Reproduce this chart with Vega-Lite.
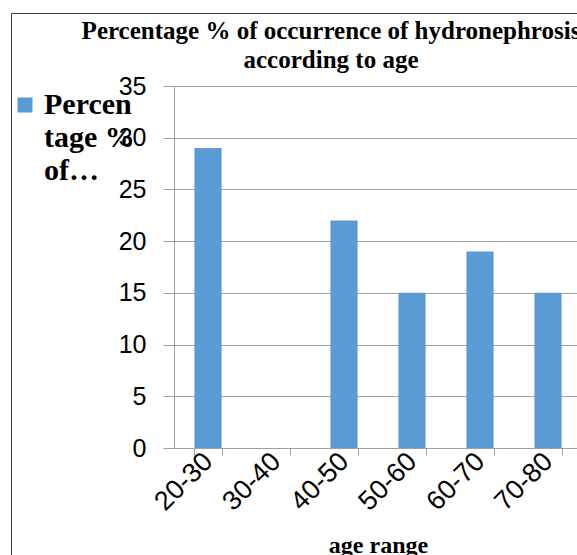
{
  "$schema": "https://vega.github.io/schema/vega-lite/v6.json",
  "autosize": {"type": "none"},
  "padding": {"left": 174, "top": 86, "right": 0, "bottom": 107},
  "width": 408,
  "height": 362,
  "background": "white",
  "title": {
    "text": ["Percentage % of occurrence of hydronephrosis", "according to age"],
    "font": "Liberation Serif",
    "fontSize": 25,
    "fontWeight": "bold",
    "color": "black",
    "lineHeight": 29,
    "anchor": "middle",
    "frame": "group",
    "dx": -47,
    "offset": -60
  },
  "data": {
    "values": [
      {"age": "20-30", "pct": 29, "series": "Percentage % of occurrence of hydronephrosis"},
      {"age": "30-40", "pct": 0, "series": "Percentage % of occurrence of hydronephrosis"},
      {"age": "40-50", "pct": 22, "series": "Percentage % of occurrence of hydronephrosis"},
      {"age": "50-60", "pct": 15, "series": "Percentage % of occurrence of hydronephrosis"},
      {"age": "60-70", "pct": 19, "series": "Percentage % of occurrence of hydronephrosis"},
      {"age": "70-80", "pct": 15, "series": "Percentage % of occurrence of hydronephrosis"}
    ]
  },
  "mark": {"type": "bar"},
  "encoding": {
    "x": {
      "field": "age",
      "type": "nominal",
      "sort": null,
      "scale": {"paddingInner": 0.6, "paddingOuter": 0.3},
      "axis": {
        "title": "age range",
        "titleFont": "Liberation Serif",
        "titleFontSize": 24,
        "titleFontWeight": "bold",
        "titleColor": "black",
        "titlePadding": 18,
        "labelAngle": -45,
        "labelAlign": "right",
        "labelBaseline": "middle",
        "labelFont": "Liberation Sans",
        "labelFontSize": 27,
        "labelColor": "black",
        "labelPadding": 2,
        "tickBand": "extent",
        "tickSize": 7,
        "tickColor": "#a0a0a0",
        "domainColor": "#a0a0a0",
        "grid": false
      }
    },
    "y": {
      "field": "pct",
      "type": "quantitative",
      "scale": {"domain": [0, 35], "nice": false},
      "axis": {
        "title": null,
        "values": [0, 5, 10, 15, 20, 25, 30, 35],
        "labelFont": "Liberation Sans",
        "labelFontSize": 25,
        "labelColor": "black",
        "labelPadding": 17,
        "tickSize": 11,
        "tickColor": "#a0a0a0",
        "domainColor": "#a0a0a0",
        "grid": true,
        "gridColor": "#a0a0a0",
        "gridOpacity": 1
      }
    },
    "color": {
      "field": "series",
      "type": "nominal",
      "scale": {"range": ["#5b9bd5"]},
      "legend": {
        "title": null,
        "orient": "none",
        "legendX": -164,
        "legendY": 4,
        "padding": 0,
        "symbolType": "square",
        "symbolSize": 225,
        "symbolStrokeWidth": 0,
        "labelFont": "Liberation Serif",
        "labelFontSize": 30,
        "labelFontWeight": "bold",
        "labelColor": "black",
        "labelOffset": 4,
        "labelLimit": 0,
        "labelExpr": "['Percen', 'tage %', 'of…']",
        "encode": {
          "labels": {"update": {"lineHeight": {"value": 33}}}
        }
      }
    },
    "opacity": {
      "datum": "chart area",
      "type": "ordinal",
      "scale": {"range": [1, 1]},
      "legend": {
        "title": null,
        "orient": "none",
        "legendX": -163,
        "legendY": -73,
        "padding": 300,
        "strokeColor": "#404040",
        "symbolSize": 0,
        "labelExpr": "''",
        "encode": {
          "legend": {"update": {"strokeWidth": {"value": 1.5}}}
        }
      }
    }
  },
  "config": {"view": {"stroke": null}, "axis": {"domainWidth": 1, "tickWidth": 1}}
}
